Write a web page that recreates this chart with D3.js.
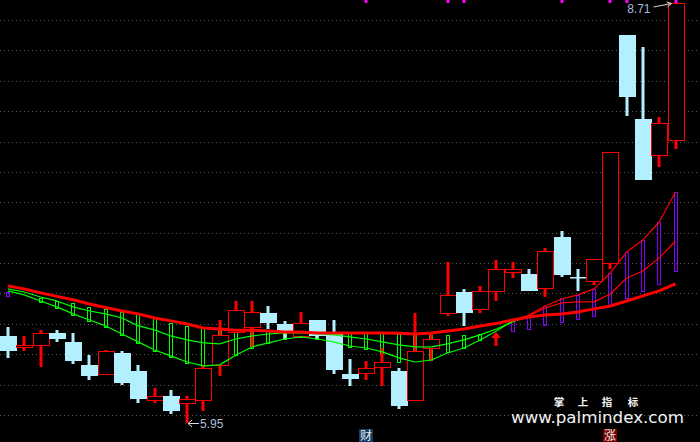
<!DOCTYPE html>
<html><head><meta charset="utf-8">
<script src="https://cdn.jsdelivr.net/npm/d3@7"></script>
<style>html,body{margin:0;padding:0;background:#000;overflow:hidden}svg{display:block}</style>
</head><body><svg id="c" width="700" height="442"></svg>
<script>
// ---------- DATA ----------
const opens  = [6.52,6.45,6.46,6.54,6.48,6.33,6.27,6.41,6.29,6.10,6.13,6.08,6.10,6.33,6.55,6.58,6.67,6.60,6.52,6.63,6.54,6.27,6.28,6.32,6.29,6.10,6.44,6.67,6.81,6.70,6.82,6.94,6.93,6.84,7.17,6.91,6.88,7.00,8.50,7.95,7.71,7.81];
const highs  = [6.58,6.52,6.56,6.56,6.54,6.40,6.43,6.42,6.33,6.18,6.17,6.13,6.33,6.63,6.75,6.75,6.72,6.62,6.68,6.63,6.63,6.37,6.36,6.44,6.31,6.67,6.55,7.01,6.83,6.85,7.02,7.01,6.96,7.10,7.21,6.96,7.03,7.73,8.50,8.42,7.96,8.71];
const lows   = [6.38,6.42,6.32,6.48,6.34,6.23,6.27,6.20,6.08,6.08,6.01,5.95,6.03,6.26,6.54,6.45,6.57,6.50,6.52,6.50,6.27,6.19,6.23,6.19,6.04,6.10,6.36,6.65,6.59,6.67,6.75,6.90,6.82,6.78,6.91,6.82,6.86,6.96,7.97,7.55,7.63,7.75];
const closes = [6.42,6.46,6.54,6.50,6.36,6.26,6.42,6.21,6.11,6.13,6.03,6.11,6.31,6.53,6.69,6.68,6.61,6.55,6.61,6.52,6.30,6.24,6.31,6.35,6.06,6.42,6.50,6.79,6.67,6.82,6.96,6.96,6.82,7.08,6.92,6.91,7.03,7.73,8.09,7.55,7.92,8.71];

const maThick = [6.851,6.83,6.805,6.782,6.76,6.732,6.709,6.686,6.667,6.640,6.621,6.60,6.575,6.568,6.56,6.56,6.555,6.548,6.548,6.542,6.542,6.542,6.542,6.542,6.539,6.535,6.542,6.555,6.568,6.588,6.604,6.627,6.647,6.660,6.667,6.680,6.700,6.719,6.752,6.785,6.818,6.864];
const lineA = [6.831,6.811,6.778,6.752,6.713,6.686,6.667,6.640,6.588,6.562,6.522,6.496,6.476,6.470,6.502,6.522,6.535,6.542,6.542,6.535,6.529,6.516,6.502,6.483,6.463,6.450,6.450,6.470,6.496,6.529,6.568,6.614,6.654,6.706,6.739,6.746,6.746,6.798,6.903,6.949,7.035,7.146];
const lineB = [6.818,6.792,6.752,6.713,6.667,6.627,6.588,6.535,6.483,6.430,6.391,6.351,6.325,6.332,6.397,6.450,6.476,6.502,6.516,6.502,6.483,6.456,6.443,6.417,6.378,6.351,6.364,6.410,6.443,6.496,6.555,6.621,6.660,6.719,6.765,6.792,6.831,6.936,7.074,7.153,7.271,7.468];

const greenTop = [null,null,6.772,6.752,6.739,6.713,6.700,6.680,6.667,6.640,6.608,6.588,6.575,6.568,6.562,6.555,6.562,6.555,6.548,6.542,6.542,6.542,6.542,6.542,6.535,6.529,6.529,6.529,6.529,6.535,null,null,null,null,null,null,null,null,null,null,null,null];
const greenBot = [null,null,6.746,6.706,6.660,6.621,6.581,6.529,6.476,6.424,6.384,6.345,6.325,6.332,6.397,6.443,6.476,6.502,6.516,6.502,6.483,6.450,6.437,6.410,6.351,6.351,6.364,6.417,6.443,6.496,null,null,null,null,null,null,null,null,null,null,null,null];
const purpleTop = [6.811,null,null,null,null,null,null,null,null,null,null,null,null,null,null,null,null,null,null,null,null,null,null,null,null,null,null,null,null,null,null,6.627,6.654,6.719,6.772,6.792,6.831,6.936,7.074,7.153,7.271,7.468];
const purpleBot = [6.785,null,null,null,null,null,null,null,null,null,null,null,null,null,null,null,null,null,null,null,null,null,null,null,null,null,null,null,null,null,null,6.555,6.568,6.594,6.614,6.634,6.654,6.719,6.772,6.818,6.864,6.949];

const arrowSignal = {idx:30, tip:6.548, stemEnd:6.456};
const topMarkers = [22,27,28,34,37,38,41];
const bottomTags = [{idx:22, text:"财", bg:"#173a66"}, {idx:37, text:"涨", bg:"#7c0000"}];
const highLabel = {idx:41, text:"8.71"};
const lowLabel = {idx:11, text:"5.95"};
const wmTitle = ["掌","上","指","标"];
const wmUrl = "www.palmindex.com";

// ---------- CHART ----------
const W=700,H=442;
const svg=d3.select("#c");
svg.append("rect").attr("width",W).attr("height",H).attr("fill","#000");
const x=d3.scaleLinear().domain([0,41]).range([8,675.5]);
const y=d3.scaleLinear().domain([5.95,8.71]).range([423,3]);
const RED="#ff0000", CYAN="#b2f0ff", GREEN="#00ff00", PURPLE="#8400ff";
const bodyW=16;

// grid
const gy=d3.scaleLinear().domain([0,13]).range([20,415]);
svg.append("g").selectAll("line").data(d3.range(14)).join("line")
  .attr("x1",0).attr("x2",W)
  .attr("y1",d=>Math.round(gy(d))+0.5).attr("y2",d=>Math.round(gy(d))+0.5)
  .attr("stroke","#5a5a5a").attr("stroke-dasharray","1,3");

// watermark
const wm=svg.append("g");
const wmX=[559,583,607,633];
wm.selectAll("text.t").data(wmTitle).join("text").attr("class","t")
  .attr("x",(d,i)=>wmX[i]).attr("y",406).attr("text-anchor","middle")
  .attr("font-family","'Noto Sans CJK SC'").attr("font-weight","bold").attr("font-size",10.5)
  .attr("fill","#f2f2f2").text(d=>d);
wm.append("text").attr("x",511).attr("y",423).attr("textLength",173).attr("lengthAdjust","spacingAndGlyphs")
  .attr("font-family","'DejaVu Sans'").attr("font-size",15).attr("fill","#f2f2f2").text(wmUrl);

// indicator bars (under candles)
const idx=d3.range(opens.length);
function bars(top,bot,color){
  svg.append("g").selectAll("rect").data(idx.filter(i=>top[i]!=null)).join("rect")
    .attr("x",i=>Math.round(x(i))-1.5).attr("width",3)
    .attr("y",i=>Math.round(y(top[i]))+0.5)
    .attr("height",i=>Math.max(1,Math.round(y(bot[i]))-Math.round(y(top[i]))))
    .attr("fill","none").attr("stroke",color).attr("stroke-width",1);
}
bars(greenTop,greenBot,GREEN);
bars(purpleTop,purpleBot,PURPLE);

// candles
const cg=svg.append("g");
idx.forEach(i=>{
  const cx=Math.round(x(i));
  const o=opens[i],c=closes[i],h=highs[i],l=lows[i];
  const up=c>o;
  const col=up?RED:CYAN;
  const yT=Math.round(y(Math.max(o,c))), yB=Math.round(y(Math.min(o,c)));
  const yH=Math.round(y(h)), yL=Math.round(y(l));
  if(up){
    if(yT>yH) cg.append("rect").attr("x",cx-1.5).attr("width",3).attr("y",yH).attr("height",yT-yH).attr("fill",col);
    if(yL>yB) cg.append("rect").attr("x",cx-1.5).attr("width",3).attr("y",yB).attr("height",yL-yB).attr("fill",col);
    cg.append("rect").attr("x",cx-bodyW/2+0.5).attr("width",bodyW).attr("y",yT+0.5).attr("height",Math.max(1,yB-yT))
      .attr("fill","#000").attr("stroke",col).attr("stroke-width",1);
  } else {
    cg.append("rect").attr("x",cx-1.5).attr("width",3).attr("y",yH).attr("height",Math.max(1,yL-yH)).attr("fill",col);
    cg.append("rect").attr("x",cx-bodyW/2).attr("width",bodyW+1).attr("y",yT).attr("height",Math.max(1.5,yB-yT)).attr("fill",col);
  }
});

// thin lines, colour by side of thick line
function seg(arr){
  const g=svg.append("g");
  for(let i=0;i<arr.length-1;i++){
    const above=(arr[i]+arr[i+1])/2>(maThick[i]+maThick[i+1])/2;
    g.append("line").attr("x1",x(i)).attr("y1",y(arr[i])).attr("x2",x(i+1)).attr("y2",y(arr[i+1]))
      .attr("stroke",above?RED:GREEN).attr("stroke-width",1.2);
  }
}
seg(lineA); seg(lineB);
svg.append("path").datum(maThick)
  .attr("d",d3.line().x((d,i)=>x(i)).y(d=>y(d)))
  .attr("fill","none").attr("stroke",RED).attr("stroke-width",3);

// signal arrow
{
  const ax=Math.round(x(arrowSignal.idx)), ty=y(arrowSignal.tip), sy=y(arrowSignal.stemEnd);
  svg.append("path").attr("d",`M${ax},${ty} L${ax+5},${ty+6} L${ax-5},${ty+6} Z`).attr("fill",RED);
  svg.append("rect").attr("x",ax-1.5).attr("width",3).attr("y",ty+5).attr("height",sy-ty-5).attr("fill",RED);
}

// top markers
svg.append("g").selectAll("rect").data(topMarkers).join("rect")
  .attr("x",i=>Math.round(x(i))-1.5).attr("y",0).attr("width",3).attr("height",3).attr("fill","#ff00ff");

// high / low labels
{
  const hx=x(highLabel.idx), hy=y(highs[highLabel.idx]);
  svg.append("text").attr("x",hx-25).attr("y",hy+10).attr("text-anchor","end")
    .attr("font-family","'Liberation Sans'").attr("font-size",12).attr("fill","#a8bedc").text(highLabel.text);
  svg.append("line").attr("x1",hx-22).attr("y1",hy+4).attr("x2",hx-4).attr("y2",hy+0.5).attr("stroke","#d8d8d8").attr("stroke-width",1);
  svg.append("path").attr("d",`M${hx-9},${hy-1} L${hx-4},${hy+0.5} L${hx-8},${hy+4}`).attr("fill","none").attr("stroke","#d8d8d8");
  const lx=x(lowLabel.idx), ly=y(lows[lowLabel.idx]);
  svg.append("line").attr("x1",lx+1).attr("y1",ly+0.5).attr("x2",lx+12).attr("y2",ly+0.5).attr("stroke","#d8d8d8");
  svg.append("path").attr("d",`M${lx+5},${ly-3} L${lx+1},${ly+0.5} L${lx+5},${ly+4}`).attr("fill","none").attr("stroke","#d8d8d8");
  svg.append("text").attr("x",lx+13).attr("y",ly+4.5)
    .attr("font-family","'Liberation Sans'").attr("font-size",12).attr("fill","#a8bedc").text(lowLabel.text);
}

// bottom tags
const tg=svg.append("g").selectAll("g").data(bottomTags).join("g");
tg.append("rect").attr("x",d=>Math.round(x(d.idx))-7).attr("y",429).attr("width",14).attr("height",13).attr("fill",d=>d.bg);
tg.append("text").attr("x",d=>Math.round(x(d.idx))).attr("y",440).attr("text-anchor","middle")
  .attr("font-family","'Noto Sans CJK SC'").attr("font-size",12).attr("fill","#e8e8e8").text(d=>d.text);
</script></body></html>
